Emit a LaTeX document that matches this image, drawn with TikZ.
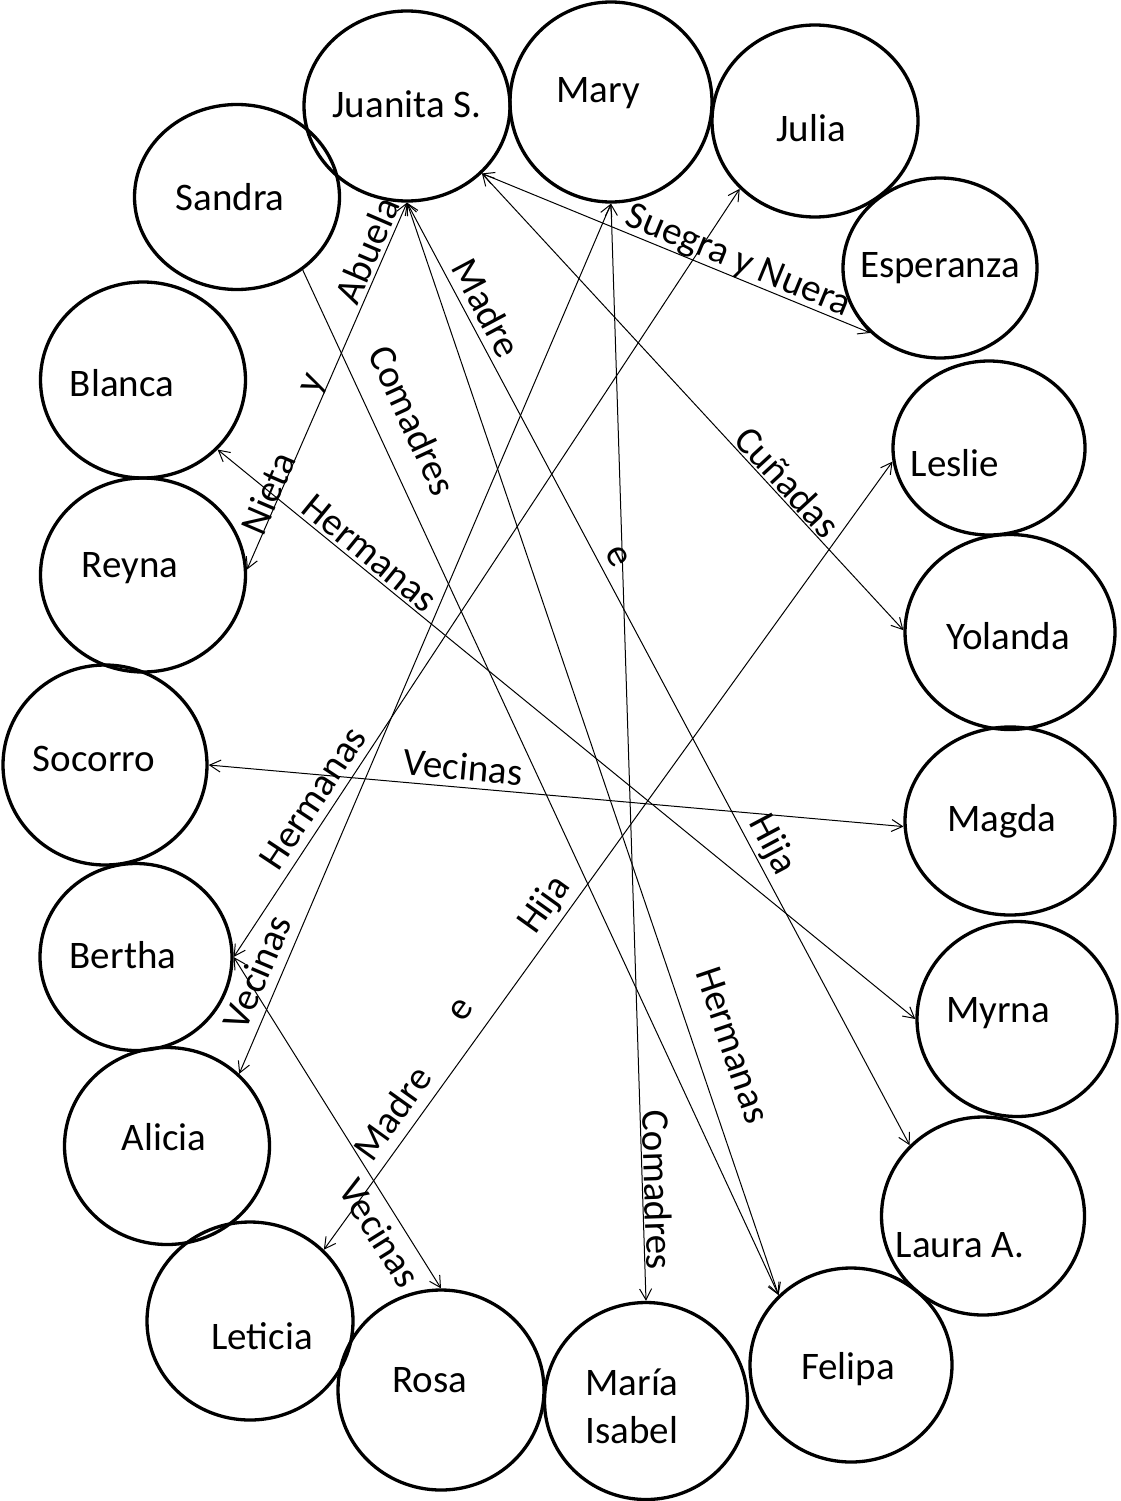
\documentclass[tikz,border=0pt]{standalone}
\usepackage{fontspec}
\setmainfont{Carlito}
\usetikzlibrary{arrows.meta,shapes.geometric}
\begin{document}
\begin{tikzpicture}[x=1pt,y=-1pt,
  person/.style={ellipse, draw, line width=3.3pt, inner sep=0pt},
  who/.style={font=\fontsize{39}{44}\selectfont, inner sep=0pt},
  lbl/.style={font=\fontsize{39}{44}\selectfont, inner sep=0pt},
  tip/.tip={Straight Barb[length=11pt,width=12pt]},
  rel/.style={line width=1pt, tip-tip},
  relone/.style={line width=1pt, -tip},
]
% page
\fill[white] (0,0) rectangle (1120,1501);
\useasboundingbox (0,0) rectangle (1120,1501);

% people (outlines)
\node[person, minimum width=206pt, minimum height=190pt] (juanita)     at (407,106)  {};
\node[person, minimum width=202pt, minimum height=200pt] (mary)        at (611,102)  {};
\node[person, minimum width=206pt, minimum height=192pt] (julia)       at (815,121)  {};
\node[person, minimum width=194pt, minimum height=180pt] (esperanza)   at (940,268)  {};
\node[person, minimum width=192pt, minimum height=174pt] (leslie)      at (989,448)  {};
\node[person, minimum width=210pt, minimum height=195pt] (yolanda)     at (1010,632) {};
\node[person, minimum width=210pt, minimum height=188pt] (magda)       at (1010,821) {};
\node[person, minimum width=200pt, minimum height=195pt] (myrna)       at (1017,1019){};
\node[person, minimum width=203pt, minimum height=198pt] (laura)       at (983,1216) {};
\node[person, minimum width=202pt, minimum height=194pt] (felipa)      at (851,1365) {};
\node[person, minimum width=203pt, minimum height=197pt] (mariaisabel) at (646,1401) {};
\node[person, minimum width=206pt, minimum height=200pt] (rosa)        at (441,1390) {};
\node[person, minimum width=206pt, minimum height=198pt] (leticia)     at (250,1321) {};
\node[person, minimum width=205pt, minimum height=197pt] (alicia)      at (167,1146) {};
\node[person, minimum width=192pt, minimum height=187pt] (bertha)      at (136,957)  {};
\node[person, minimum width=204pt, minimum height=200pt] (socorro)     at (105,765)  {};
\node[person, minimum width=205pt, minimum height=194pt] (reyna)       at (143,575)  {};
\node[person, minimum width=205pt, minimum height=196pt] (blanca)      at (143,380)  {};
\node[person, minimum width=205pt, minimum height=185pt] (sandra)      at (237,197)  {};

% names
\node[who] (juanita-t)   at (407,104)  {Juanita S.};
\node[who] (mary-t)      at (598,93)   {Mary};
\node[who] (julia-t)     at (811,128)  {Julia};
\node[who] (esperanza-t) at (940,268)  {Esperanza};
\node[who] (leslie-t)    at (955,463)  {Leslie};
\node[who] (yolanda-t)   at (1008,636) {Yolanda};
\node[who] (magda-t)     at (1002,821) {Magda};
\node[who] (myrna-t)     at (998,1013) {Myrna};
\node[who] (laura-t)     at (960,1245) {Laura A.};
\node[who] (felipa-t)    at (848,1369) {Felipa};
\node[who, align=center] (mariaisabel-t) at (632,1406) {María\\[4pt]Isabel};
\node[who] (rosa-t)      at (430,1380) {Rosa};
\node[who] (leticia-t)   at (262,1336) {Leticia};
\node[who] (alicia-t)    at (164,1137) {Alicia};
\node[who] (bertha-t)    at (123,955)  {Bertha};
\node[who] (socorro-t)   at (94,759)   {Socorro};
\node[who] (reyna-t)     at (130,568)  {Reyna};
\node[who] (blanca-t)    at (122,383)  {Blanca};
\node[who] (sandra-t)    at (230,197)  {Sandra};

% relations
\draw[rel]    (juanita.south) -- (reyna.3);
\draw[rel]    (juanita.-42)   -- (esperanza.-137);
\draw[rel]    (juanita.-42)   -- (yolanda.179);
\draw[rel]    (juanita.south) -- (laura.136);
\draw[rel]    (juanita.south) -- (felipa.136);
\draw[relone] (sandra.-48)    -- (felipa.136);
\draw[rel]    (mary.south)    -- (mariaisabel.north);
\draw[rel]    (mary.south)    -- (alicia.45);
\draw[rel]    (julia.-138)    -- (bertha.east);
\draw[rel]    (leslie.188)    -- (leticia.44);
\draw[rel]    (socorro.east)  -- (magda.183);
\draw[rel]    (blanca.-43)    -- (myrna.180);
\draw[rel]    (bertha.east)   -- (rosa.north);

% relation labels
\node[lbl, rotate=66.7]  (l-abuela)  at (367,250)  {Abuela};
\node[lbl, rotate=66.7]  (l-y)       at (315,385)  {y};
\node[lbl, rotate=66.7]  (l-nieta)   at (268,493)  {Nieta};
\node[lbl, rotate=-22.4] (l-suegra)  at (738,262)  {Suegra y Nuera};
\node[lbl, rotate=-47.3] (l-cunadas) at (788,482)  {Cuñadas};
\node[lbl, rotate=-62]   (l-madre1)  at (487,308)  {Madre};
\node[lbl, rotate=-62]   (l-e1)      at (617,557)  {e};
\node[lbl, rotate=-62]   (l-hija1)   at (772,845)  {Hija};
\node[lbl, rotate=-71.3] (l-herm1)   at (733,1045) {Hermanas};
\node[lbl, rotate=-65.3] (l-comad1)  at (413,420)  {Comadres};
\node[lbl, rotate=-88.2] (l-comad2)  at (658,1190) {Comadres};
\node[lbl, rotate=67]    (l-vec1)    at (257,972)  {Vecinas};
\node[lbl, rotate=56.5]  (l-herm2)   at (313,798)  {Hermanas};
\node[lbl, rotate=54.3]  (l-madre2)  at (392,1113) {Madre};
\node[lbl, rotate=54.3]  (l-e2)      at (462,1010) {e};
\node[lbl, rotate=54.3]  (l-hija2)   at (545,905)  {Hija};
\node[lbl, rotate=-5.1]  (l-vec2)    at (463,767)  {Vecinas};
\node[lbl, rotate=-39.2] (l-herm3)   at (370,553)  {Hermanas};
\node[lbl, rotate=-57.9] (l-vec3)    at (380,1233) {Vecinas};
\end{tikzpicture}
\end{document}
